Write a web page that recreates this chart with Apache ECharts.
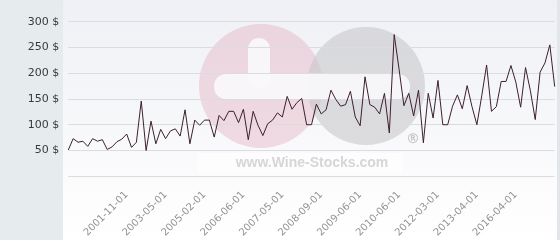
<!DOCTYPE html>
<html><head><meta charset="utf-8">
<script src="https://cdn.jsdelivr.net/npm/echarts@6/dist/echarts.min.js"></script>
<style>html,body{margin:0;padding:0;background:#fff}#c{width:560px;height:240px}</style>
</head><body><div id="c"></div>
<script>
// Price values (USD), one per point
const prices = [51,73,66,68,58,73,68,71,52,57,67,72,82,56,66,146,50,107,63,91,73,88,92,78,129,63,109,99,109,109,76,118,108,126,126,104,130,71,126,99,79,102,109,123,115,155,130,143,151,
100,100,140,121,129,167,149,136,139,165,115,98,193,139,134,121,161,84,275,208,137,161,117,167,65,161,113,186,100,100,136,158,131,176,135,100,156,216,126,135,184,184,215,183,134,211,166,110,202,220,255,174];
// Visible date tick labels and the point index at which each one sits
const tickLabels = ['2001-11-01','2003-05-01','2005-02-01','2006-06-01','2007-05-01','2008-09-01','2009-06-01','2010-06-01','2012-03-01','2013-04-01','2016-04-01'];
const tickIndex = [12,20,28,36,44,52,60,68,76,84,92];
const yTicks = [0,50,100,150,200,250,300];

const categories = prices.map((_, i) => String(i));
const labelAt = {};
tickIndex.forEach((idx, k) => { labelAt[idx] = tickLabels[k]; });

const chart = echarts.init(document.getElementById('c'), null, {renderer: 'canvas'});
chart.setOption({
  animation: false,
  backgroundColor: '#ffffff',
  graphic: [
    {type: 'rect', z: -20, shape: {x: 0, y: 0, width: 63, height: 240}, style: {fill: '#e6ebee'}},
    {type: 'rect', z: -20, shape: {x: 63, y: 0, width: 494, height: 240},
      style: {fill: new echarts.graphic.LinearGradient(0, 0, 0, 1, [{offset: 0, color: '#eff0f5'}, {offset: 1, color: '#ffffff'}])}},
    {type: 'rect', z: -20, shape: {x: 557, y: 0, width: 3, height: 240}, style: {fill: '#e2e5ea'}},
    // watermark
    {type: 'circle', z: -10, shape: {cx: 261, cy: 86, r: 62}, style: {fill: 'rgba(226,175,190,0.42)'}},
    {type: 'circle', z: -9, shape: {cx: 366, cy: 86, r: 59}, style: {fill: 'rgba(200,200,203,0.6)'}},
    {type: 'rect', z: -8, shape: {x: 214, y: 74, width: 196, height: 25, r: 12}, style: {fill: 'rgba(249,249,251,0.92)'}},
    {type: 'rect', z: -8, shape: {x: 248, y: 38, width: 22, height: 50, r: 11}, style: {fill: 'rgba(249,249,251,0.92)'}},
    {type: 'rect', z: -7, shape: {x: 198, y: 153, width: 205, height: 20}, style: {fill: 'rgba(255,255,255,0.6)'}},
    {type: 'text', z: -6, style: {x: 312, y: 163, text: 'www.Wine-Stocks.com', fill: '#d6d6d8', font: 'bold 14px "Liberation Sans", Arial, sans-serif', align: 'center', verticalAlign: 'middle'}},
    {type: 'text', z: -6, style: {x: 413, y: 139, text: '®', fill: '#cacacc', font: 'bold 14px "DejaVu Sans", sans-serif', align: 'center', verticalAlign: 'middle'}}
  ],
  grid: {left: 68.3, right: 5.3, top: 21.7, bottom: 61.7, containLabel: false},
  xAxis: {
    type: 'category', data: categories, boundaryGap: false,
    axisLine: {show: false}, axisTick: {show: false}, splitLine: {show: false},
    axisLabel: {
      rotate: 45, margin: 17, color: '#939393', fontSize: 10, fontFamily: 'DejaVu Sans',
      interval: (i) => labelAt[i] !== undefined,
      formatter: (v, i) => labelAt[i] || ''
    }
  },
  yAxis: {
    type: 'value', min: yTicks[0], max: yTicks[yTicks.length - 1], interval: 50,
    axisLine: {show: false}, axisTick: {show: false},
    splitLine: {lineStyle: {color: '#dcdcde', width: 1}},
    axisLabel: {margin: 9, color: '#3a3a3a', fontSize: 11, fontFamily: 'DejaVu Sans',
      formatter: (v) => v === 0 ? '' : v + ' $'}
  },
  series: [{
    type: 'line', data: prices, symbol: 'none', smooth: false,
    lineStyle: {color: '#3e1f2e', width: 1}
  }]
});
</script></body></html>
